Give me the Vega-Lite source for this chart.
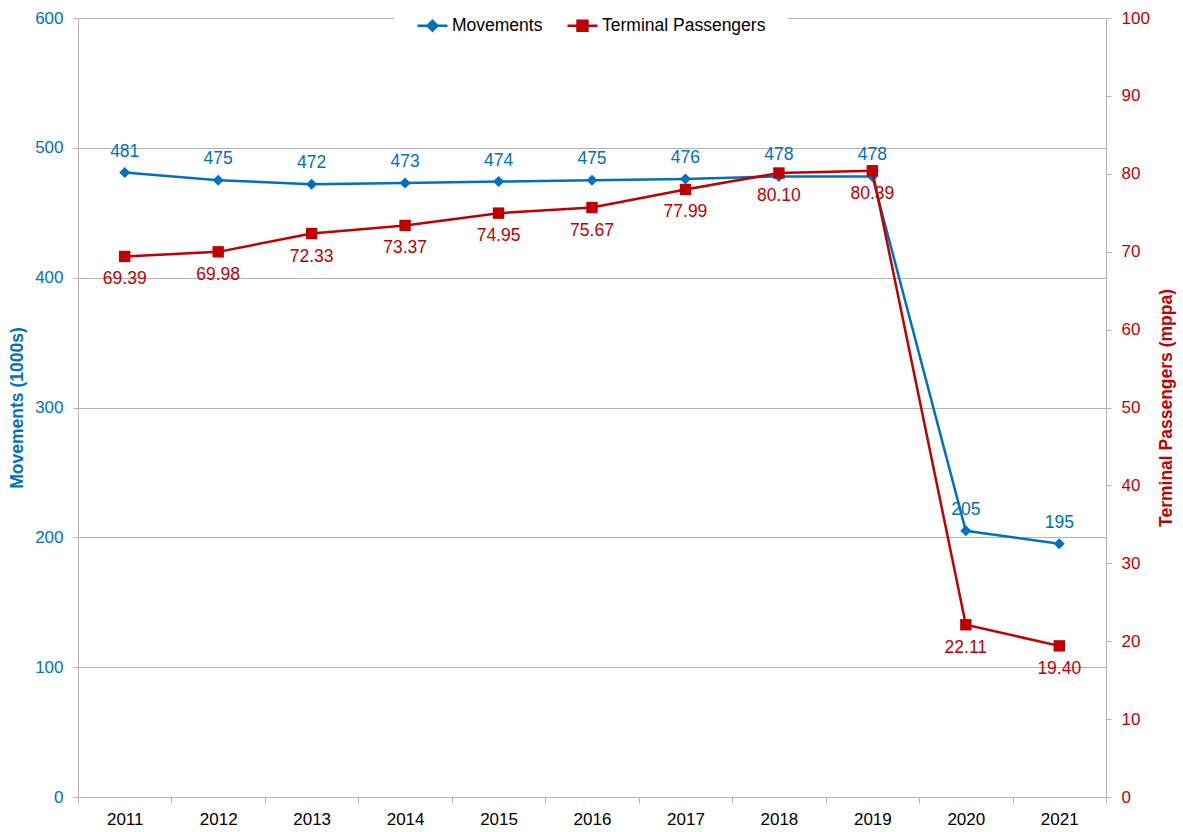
{
  "$schema": "https://vega.github.io/schema/vega-lite/v6.json",
  "width": 1028,
  "height": 779,
  "autosize": {"type": "none"},
  "padding": {"left": 78, "top": 18, "right": 77, "bottom": 35},
  "background": "white",
  "config": {
    "font": "Liberation Sans",
    "view": {"stroke": null},
    "axis": {"labelFont": "Liberation Sans", "titleFont": "Liberation Sans"}
  },
  "data": {
    "values": [
      {"year": "2011", "series": "Movements", "value": 481},
      {"year": "2012", "series": "Movements", "value": 475},
      {"year": "2013", "series": "Movements", "value": 472},
      {"year": "2014", "series": "Movements", "value": 473},
      {"year": "2015", "series": "Movements", "value": 474},
      {"year": "2016", "series": "Movements", "value": 475},
      {"year": "2017", "series": "Movements", "value": 476},
      {"year": "2018", "series": "Movements", "value": 478},
      {"year": "2019", "series": "Movements", "value": 478},
      {"year": "2020", "series": "Movements", "value": 205},
      {"year": "2021", "series": "Movements", "value": 195},
      {"year": "2011", "series": "Terminal Passengers", "value": 69.39},
      {"year": "2012", "series": "Terminal Passengers", "value": 69.98},
      {"year": "2013", "series": "Terminal Passengers", "value": 72.33},
      {"year": "2014", "series": "Terminal Passengers", "value": 73.37},
      {"year": "2015", "series": "Terminal Passengers", "value": 74.95},
      {"year": "2016", "series": "Terminal Passengers", "value": 75.67},
      {"year": "2017", "series": "Terminal Passengers", "value": 77.99},
      {"year": "2018", "series": "Terminal Passengers", "value": 80.10},
      {"year": "2019", "series": "Terminal Passengers", "value": 80.39},
      {"year": "2020", "series": "Terminal Passengers", "value": 22.11},
      {"year": "2021", "series": "Terminal Passengers", "value": 19.40}
    ]
  },
  "encoding": {
    "x": {
      "field": "year",
      "type": "ordinal",
      "scale": {"type": "band", "paddingInner": 0, "paddingOuter": 0},
      "axis": {
        "title": null,
        "tickBand": "extent",
        "labelAngle": 0,
        "labelFontSize": 17,
        "labelColor": "#000000",
        "labelPadding": 8,
        "domainColor": "#b3b3b3",
        "tickColor": "#b3b3b3",
        "tickSize": 6,
        "grid": false
      }
    }
  },
  "layer": [
    {
      "transform": [{"filter": "datum.series === 'Movements'"}],
      "encoding": {
        "y": {
          "field": "value",
          "type": "quantitative",
          "scale": {"domain": [0, 600], "nice": false, "zero": true},
          "axis": {
            "orient": "left",
            "title": "Movements (1000s)",
            "values": [0, 100, 200, 300, 400, 500, 600],
            "grid": true,
            "gridColor": "#b3b3b3",
            "domainColor": "#b3b3b3",
            "tickColor": "#b3b3b3",
            "tickSize": 5,
            "labelColor": "#0070C0",
            "labelFontSize": 17,
            "labelPadding": 10,
            "titleColor": "#0070C0",
            "titleFontWeight": "bold",
            "titleFontSize": 17.5,
            "titlePadding": 8
          }
        }
      },
      "layer": [
        {"mark": {"type": "line", "color": "#0070C0", "strokeWidth": 2.5}},
        {"mark": {"type": "point", "shape": "diamond", "filled": true, "color": "#0070C0", "size": 121, "opacity": 1}},
        {
          "mark": {"type": "text", "color": "#0070C0", "fontSize": 17.5, "dy": -21, "baseline": "middle"},
          "encoding": {"text": {"field": "value", "type": "quantitative", "format": "d"}}
        }
      ]
    },
    {
      "transform": [{"filter": "datum.series === 'Terminal Passengers'"}],
      "encoding": {
        "y": {
          "field": "value",
          "type": "quantitative",
          "scale": {"domain": [0, 100], "nice": false, "zero": true},
          "axis": {
            "orient": "right",
            "title": "Terminal Passengers (mppa)",
            "values": [0, 10, 20, 30, 40, 50, 60, 70, 80, 90, 100],
            "grid": false,
            "domainColor": "#b3b3b3",
            "tickColor": "#b3b3b3",
            "tickSize": 5,
            "labelColor": "#C00000",
            "labelFontSize": 17,
            "labelPadding": 10,
            "titleColor": "#C00000",
            "titleFontWeight": "bold",
            "titleFontSize": 17.5,
            "titlePadding": 26,
            "titleAngle": 270
          }
        }
      },
      "layer": [
        {"mark": {"type": "line", "color": "#C00000", "strokeWidth": 2.5}},
        {"mark": {"type": "point", "shape": "square", "filled": true, "color": "#C00000", "size": 130, "opacity": 1}},
        {
          "mark": {"type": "text", "color": "#C00000", "fontSize": 17.5, "dy": 23, "baseline": "middle"},
          "encoding": {"text": {"field": "value", "type": "quantitative", "format": ".2f"}}
        }
      ]
    },
    {
      "mark": {"type": "point", "filled": true, "opacity": 0},
      "encoding": {
        "color": {
          "field": "series",
          "type": "nominal",
          "scale": {"domain": ["Movements", "Terminal Passengers"], "range": ["#0070C0", "#C00000"]},
          "legend": {
            "title": null,
            "orient": "none",
            "direction": "horizontal",
            "legendX": 316,
            "legendY": -31,
            "fillColor": "white",
            "padding": 22,
            "columnPadding": 19,
            "labelOffset": 3,
            "labelFontSize": 17.5,
            "labelLimit": 400,
            "labelColor": "#000000",
            "labelFont": "Liberation Sans",
            "symbolSize": 900,
            "symbolOpacity": 1,
            "symbolStrokeWidth": 2.5,
            "encode": {
              "symbols": {
                "update": {
                  "stroke": {"scale": "color", "field": "value"},
                  "strokeWidth": {"value": 2.5},
                  "opacity": {"value": 1}
                }
              }
            }
          }
        },
        "shape": {
          "field": "series",
          "type": "nominal",
          "scale": {
            "domain": ["Movements", "Terminal Passengers"],
            "range": ["M-1,0H1M0,-0.33L0.33,0L0,0.33L-0.33,0Z", "M-1,0H1M-0.33,-0.33H0.33V0.33H-0.33Z"]
          }
        }
      }
    }
  ],
  "resolve": {"scale": {"y": "independent"}}
}
